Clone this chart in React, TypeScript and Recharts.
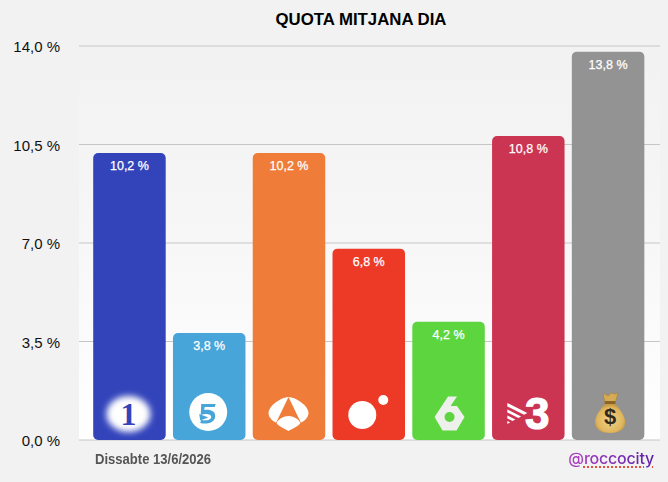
import { BarChart, Bar, XAxis, YAxis, CartesianGrid, Cell, LabelList } from "recharts";

// Channel average share for the day
const channels = ["La 1", "Telecinco", "Antena 3", "Cuatro", "laSexta", "3/24", "Altres"];
const shares = [10.2, 3.8, 10.2, 6.8, 4.2, 10.8, 13.8];
const barColors = ["#3344bb", "#47a5d9", "#ef7c38", "#ec3a27", "#5dd53f", "#cc3552", "#939393"];
const yTicks = [0, 3.5, 7, 10.5, 14];

const fmtPct = (v: number) => `${v.toFixed(1).replace(".", ",")} %`;

const sans = "'Liberation Sans', Arial, sans-serif";

// Channel logos, drawn around (0,0) = the middle of the logo slot
function Logo({ name }: { name: string }) {
  switch (name) {
    case "La 1":
      return (
        <g transform="translate(-1, 1)">
          <ellipse cx={0} cy={0} rx={22} ry={18} fill="#fff" filter="url(#logoBlur)" />
          <text x={0} y={11} textAnchor="middle" fontFamily="'Liberation Serif', serif" fontWeight={700} fontSize={32} fill="#3344bb">
            1
          </text>
        </g>
      );
    case "Telecinco":
      return (
        <g transform="translate(-1, -1)">
          <circle cx={0} cy={0} r={19} fill="#fff" />
          <path d="M-7 -8 L7.5 -8 L6.5 -5 L-3.5 -5 L-4 -2 C2 -3 7 -1 7 4 C7 10 0 13 -8 11 L-7 8 C-2 9 3 8 3 5 C3 2 -2 1 -7.5 3 Z" fill="#47a5d9" />
          <path d="M-9 2 L0 5.5 L-8 8.5 Z" fill="#47a5d9" />
        </g>
      );
    case "Antena 3":
      return (
        <g transform="translate(-0.5, 0)">
          <path d="M0 -16 C-10 -15 -20 -6 -20 0 C-20 5 -15 9 -11 10 L11 10 C15 9 20 5 20 0 C20 -6 10 -15 0 -16 Z" fill="#fff" />
          <path d="M0 -16 L-14 13 L14 13 Z" fill="#ef7c38" />
          <path d="M0 3 C-5 3 -10 6 -12 10 C-9 14 -3 16 0 18 C3 16 9 14 12 10 C10 6 5 3 0 3 Z" fill="#fff" />
        </g>
      );
    case "Cuatro":
      return (
        <g fill="#fff">
          <circle cx={-6.5} cy={2} r={14} />
          <circle cx={14.5} cy={-13} r={5} />
        </g>
      );
    case "laSexta":
      return (
        <g transform="translate(1, 0)">
          <path d="M-15 4 L-1.5 -16.5 L7.5 -16.5 L1 -7 L7.5 -7 L15 4 L7 17.6 L-7 17.6 Z" fill="#eef0ec" />
          <circle cx={0} cy={4} r={5} fill="#5dd53f" />
        </g>
      );
    case "3/24":
      return (
        <g fill="#fff">
          <path d="M-21 -10 L-1 0 L-4.3 1.8 L-21 -6.5 Z" />
          <path d="M-21 -3.5 L-7.2 3.4 L-10 5 L-21 -0.5 Z" />
          <path d="M-21 2.5 L-12.9 6.5 L-15.8 8.1 L-21 5.5 Z" />
          <path d="M-21 8 L-18.1 9.4 L-21 11 Z" />
          <text x={9} y={16} textAnchor="middle" fontFamily={sans} fontWeight={700} fontSize={44} stroke="#fff" strokeWidth={1.2}>
            3
          </text>
        </g>
      );
    default:
      // money bag
      return (
        <g transform="translate(2, 0)">
          <path d="M-7 -20 L-2 -17 L1 -20 L5 -19 L8 -20 L5 -10 L-5 -10 Z" fill="#d6ab55" stroke="#a87f35" strokeWidth={0.6} />
          <path d="M-5 -9 L5 -9 C11 -3 16 5 15 11 C14 17 8 20 0 20 C-8 20 -14 17 -15 11 C-16 5 -11 -3 -5 -9 Z" fill="url(#bagFill)" />
          <rect x={-5.5} y={-12} width={11} height={3} rx={1.2} fill="#8a6526" />
          <text x={0} y={11} textAnchor="middle" fontFamily={sans} fontWeight={700} fontSize={22} fill="#33291b">
            $
          </text>
        </g>
      );
  }
}

function LogoBar(props: any) {
  const { x, y, width, height, fill, index } = props;
  return (
    <g>
      <rect x={x} y={y} width={width} height={height} rx={5} ry={5} fill={fill} />
      <g transform={`translate(${x + width / 2}, ${y + height - 27})`}>
        <Logo name={channels[index]} />
      </g>
    </g>
  );
}

export default function App() {
  const data = channels.map((c, i) => ({ channel: c, share: shares[i] }));

  return (
    <div style={{ position: "relative", width: 668, height: 482, background: "#f2f2f2", overflow: "hidden", fontFamily: sans }}>
      <style>{"body{margin:0}"}</style>
      <div style={{ position: "absolute", left: 79, top: 46, width: 581, height: 394, background: "linear-gradient(to bottom, #f2f2f2 0%, #f5f5f5 35%, #ffffff 100%)" }} />
      <div style={{ position: "absolute", left: 0, right: 0, top: 10, paddingLeft: 54, textAlign: "center", fontWeight: 700, fontSize: 16.8, color: "#000" }}>
        QUOTA MITJANA DIA
      </div>
      <div style={{ position: "absolute", left: 0, top: 0 }}>
        <BarChart width={668} height={482} data={data} margin={{ top: 46, right: 8, bottom: 42, left: 0 }}>
          <defs>
            <filter id="logoBlur" x="-30%" y="-30%" width="160%" height="160%">
              <feGaussianBlur stdDeviation="3" />
            </filter>
            <radialGradient id="bagFill" cx="50%" cy="55%" r="60%">
              <stop offset="0%" stopColor="#f0d488" />
              <stop offset="70%" stopColor="#e0b65f" />
              <stop offset="100%" stopColor="#b98a35" />
            </radialGradient>
          </defs>
          <CartesianGrid vertical={false} stroke="#c6c6c6" strokeWidth={1} />
          <XAxis
            dataKey="channel"
            height={0}
            tick={false}
            tickLine={false}
            axisLine={{ stroke: "#444", strokeWidth: 2 }}
            padding={{ left: 10.2, right: 12.4 }}
          />
          <YAxis
            width={79}
            domain={[0, 14]}
            ticks={yTicks}
            tickFormatter={fmtPct}
            tickLine={false}
            axisLine={false}
            tickMargin={19}
            tickSize={0}
            tick={{ fontSize: 15, fontFamily: sans, fill: "#111", dy: 1 }}
          />
          <Bar dataKey="share" barSize={72.5} shape={LogoBar} isAnimationActive={false}>
            {data.map((d, i) => (
              <Cell key={d.channel} fill={barColors[i]} />
            ))}
            <LabelList
              dataKey="share"
              position="insideTop"
              offset={6}
              formatter={(v: any) => fmtPct(Number(v))}
              style={{ fill: "#fff", fontSize: 12.5, fontFamily: sans, fontWeight: 400, stroke: "#fff", strokeWidth: 0.25, transform: "translateY(2px)" }}
            />
          </Bar>
        </BarChart>
      </div>
      <div style={{ position: "absolute", left: 95, top: 450, fontWeight: 700, fontSize: 15, color: "#555", transform: "scaleX(0.87)", transformOrigin: "left center", whiteSpace: "nowrap" }}>
        Dissabte 13/6/2026
      </div>
      <div
        style={{
          position: "absolute",
          right: 14,
          top: 448,
          fontSize: 16,
          fontFamily: "Inter, sans-serif",
          fontWeight: 500,
          letterSpacing: -0.2,
          background: "linear-gradient(to right, #b040c0, #5a20a8)",
          WebkitBackgroundClip: "text",
          backgroundClip: "text",
          color: "transparent",
        }}
      >
        @<span style={{ textDecoration: "underline dotted #e0503a 2px", textUnderlineOffset: 2 }}>roccocity</span>
      </div>
    </div>
  );
}
